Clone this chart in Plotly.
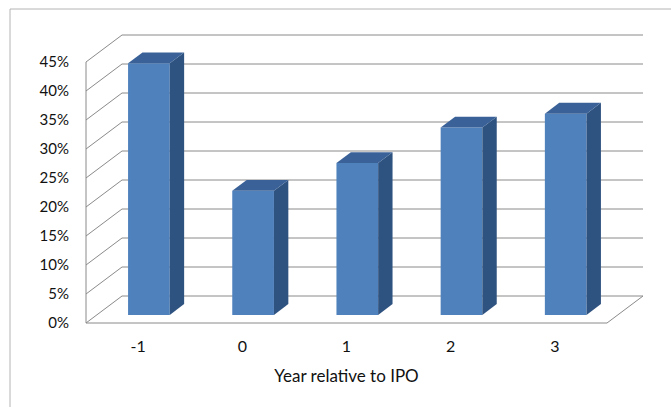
import plotly.graph_objects as go

# ---- data -------------------------------------------------------------
years = ["-1", "0", "1", "2", "3"]
share_pct = [43.4, 21.4, 26.2, 32.3, 34.7]
tick_pct = [0, 5, 10, 15, 20, 25, 30, 35, 40, 45]
tick_text = [f"{t}%" for t in tick_pct]
x_title = "Year relative to IPO"

# ---- geometry of the oblique 3-D frame ---------------------------------
W, H = 671, 407
FLOOR_L_PX, FLOOR_R_PX = 86, 607      # front floor edge, pixels
ZERO_PX, TOP_PX = 323, 62             # front axis 0% / max, pixels
Y_MAX = tick_pct[-1]
DEPTH_DX_PX, DEPTH_DY_PX = 36, 27     # full wall depth offset, pixels

n = len(years)
cat_px = (FLOOR_R_PX - FLOOR_L_PX) / n
pct_px = (ZERO_PX - TOP_PX) / Y_MAX
DX = DEPTH_DX_PX / cat_px             # depth offset in category units
DY = DEPTH_DY_PX / pct_px             # depth offset in percent units

BAR_W = 0.4                           # gap width 150%
Z_FRONT, Z_BACK = 0.3, 0.7            # gap depth 150%

FRONT = "#4F81BD"
SIDE = "#2F5380"
TOP = "#3A6298"
GRID = "#8A8A8A"
FONT = "Lato"
INK = "#111111"


def proj(x, y, z):
    return x + z * DX, y + z * DY


xs = list(range(n))
x_lo, x_hi = -0.5, n - 0.5

fig = go.Figure()

# front faces of the columns
fig.add_trace(go.Bar(
    x=[proj(i, 0, Z_FRONT)[0] for i in xs],
    y=share_pct,
    base=proj(0, 0, Z_FRONT)[1],
    width=BAR_W,
    marker=dict(color=FRONT, line=dict(width=0)),
    hoverinfo="skip",
    showlegend=False,
))

# side and top faces
for i, v in zip(xs, share_pct):
    xl = i - BAR_W / 2
    xr = i + BAR_W / 2
    p = [proj(xr, 0, Z_FRONT), proj(xr, v, Z_FRONT),
         proj(xr, v, Z_BACK), proj(xr, 0, Z_BACK)]
    fig.add_trace(go.Scatter(
        x=[a for a, _ in p], y=[b for _, b in p], mode="lines",
        fill="toself", fillcolor=SIDE, line=dict(width=0, color=SIDE),
        hoverinfo="skip", showlegend=False))
    t = [proj(xl, v, Z_FRONT), proj(xr, v, Z_FRONT),
         proj(xr, v, Z_BACK), proj(xl, v, Z_BACK)]
    fig.add_trace(go.Scatter(
        x=[a for a, _ in t], y=[b for _, b in t], mode="lines",
        fill="toself", fillcolor=TOP, line=dict(width=0, color=TOP),
        hoverinfo="skip", showlegend=False))

# walls, floor and gridlines (behind the columns)
shapes = []
grid_line = dict(color=GRID, width=1)


def seg(p0, p1):
    shapes.append(dict(type="line", xref="x", yref="y", layer="below",
                       x0=p0[0], y0=p0[1], x1=p1[0], y1=p1[1],
                       line=grid_line))


for t in tick_pct:
    seg(proj(x_lo, t, 0), proj(x_lo, t, 1))     # side wall
    seg(proj(x_lo, t, 1), proj(x_hi, t, 1))     # back wall
seg(proj(x_lo, 0, 0), proj(x_lo, Y_MAX, 0))     # vertical axis
seg(proj(x_lo, 0, 0), proj(x_hi, 0, 0))         # floor front edge
seg(proj(x_hi, 0, 0), proj(x_hi, 0, 1))         # floor right edge

# chart area border
border = dict(color="#B4B4B4", width=1)
shapes.append(dict(type="line", xref="paper", yref="paper",
                   x0=10 / W, x1=1.01, y0=1 - 9 / H, y1=1 - 9 / H, line=border))
shapes.append(dict(type="line", xref="paper", yref="paper",
                   x0=10 / W, x1=10 / W, y0=-0.01, y1=1 - 9 / H, line=border))

# axis carrying the tick labels, aligned with the front plane
fig.add_trace(go.Scatter(x=[], y=[], xaxis="x2", yaxis="y2",
                         hoverinfo="skip", showlegend=False))

fig.update_layout(
    width=W, height=H,
    margin=dict(l=0, r=0, t=0, b=0, pad=0),
    paper_bgcolor="white", plot_bgcolor="rgba(0,0,0,0)",
    shapes=shapes,
    font=dict(family=FONT, size=14, color=INK),
    xaxis=dict(domain=[0, 1], range=[x_lo - FLOOR_L_PX / cat_px,
                                      x_lo + (W - FLOOR_L_PX) / cat_px],
               visible=False, fixedrange=True, automargin=False),
    yaxis=dict(domain=[0, 1], range=[-(H - ZERO_PX) / pct_px, ZERO_PX / pct_px],
               visible=False, fixedrange=True, automargin=False),
    xaxis2=dict(domain=[FLOOR_L_PX / W, FLOOR_R_PX / W], range=[x_lo, x_hi],
                anchor="y2", tickvals=xs, ticktext=years,
                tickfont=dict(family=FONT, size=16, color=INK),
                showgrid=False, zeroline=False, showline=False, ticks="",
                ticklabelstandoff=12, automargin=False,
                title=dict(text=x_title, standoff=16,
                           font=dict(family=FONT, size=17, color=INK)),
                fixedrange=True),
    yaxis2=dict(domain=[(H - ZERO_PX) / H, (H - TOP_PX) / H], range=[0, Y_MAX],
                anchor="x2", tickvals=tick_pct, ticktext=tick_text,
                tickfont=dict(family=FONT, size=15, color=INK),
                showgrid=False, zeroline=False, showline=False, ticks="",
                ticklabelstandoff=16, automargin=False, fixedrange=True),
)

fig.write_html("out.html")
